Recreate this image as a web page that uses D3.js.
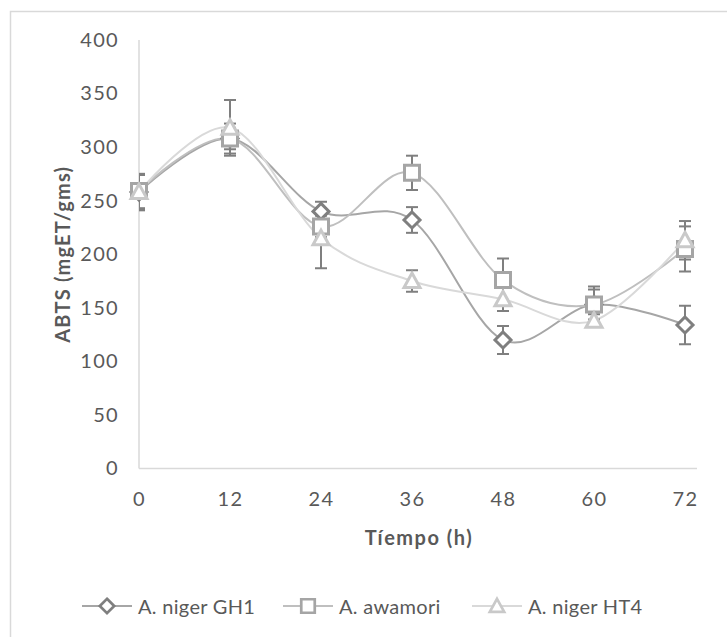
<!DOCTYPE html>
<html>
<head>
<meta charset="utf-8">
<script src="https://cdn.jsdelivr.net/npm/d3@7"></script>
<style>
  body { margin: 0; background: #fff; }
  text { font-family: Lato, "Open Sans", sans-serif; fill: #595959; }
</style>
</head>
<body>
<div id="chart"></div>
<script>
// Data
const hours = [0, 12, 24, 36, 48, 60, 72]
const gh1 = [258, 308, 240, 232, 120, 153, 134]
const gh1Err = [17, 10, 9, 12, 13, 14, 18]
const awamori = [259, 308, 226, 276, 176, 153, 205]
const awamoriErr = [16, 14, 10, 16, 20, 17, 21]
const ht4 = [258, 318, 215, 175, 158, 138, 213]
const ht4Err = [16, 26, 28, 10, 11, 6, 18]
const yTicks = [0, 50, 100, 150, 200, 250, 300, 350, 400]
const seriesNames = ['A. niger GH1', 'A. awamori', 'A. niger HT4']

function draw() {
  const dimensions = {
    width: 727,
    height: 637,
    left: 139,
    right: 697,
    top: 40,
    bottom: 468.5,
    lastCat: 685,
  }

  const series = [
    { name: seriesNames[0], values: gh1, err: gh1Err, shape: 'diamond', marker: '#7f7f7f', line: '#a6a6a6' },
    { name: seriesNames[1], values: awamori, err: awamoriErr, shape: 'square', marker: '#a5a5a5', line: '#bfbfbf' },
    { name: seriesNames[2], values: ht4, err: ht4Err, shape: 'triangle', marker: '#c9c9c9', line: '#d9d9d9' },
  ]

  const svg = d3.select('#chart')
    .append('svg')
    .attr('width', dimensions.width)
    .attr('height', dimensions.height)

  // chart border
  svg.append('rect')
    .attr('x', 10.5).attr('y', 11.5)
    .attr('width', 740).attr('height', 660)
    .attr('fill', 'none')
    .attr('stroke', '#d9d9d9')
    .attr('stroke-width', 1.5)

  // Scales
  const xScale = d3.scaleLinear()
    .domain([0, 72])
    .range([dimensions.left, dimensions.lastCat])

  const yScale = d3.scaleLinear()
    .domain([0, 400])
    .range([dimensions.bottom, dimensions.top])

  // Axes
  const yAxis = d3.axisLeft(yScale).tickValues(yTicks).tickSize(0).tickPadding(20)
  const yG = svg.append('g')
    .attr('transform', `translate(${dimensions.left},0)`)
    .call(yAxis)
  yG.select('.domain').remove()
  yG.selectAll('text')
    .style('font-size', '20px').style('font-family', 'Lato').style('letter-spacing', '1.3px')
    .attr('fill', '#595959')

  const xAxis = d3.axisBottom(xScale).tickValues(hours).tickSize(0).tickPadding(23)
  const xG = svg.append('g')
    .attr('transform', `translate(0,${dimensions.bottom})`)
    .call(xAxis)
  xG.select('.domain').remove()
  xG.selectAll('text')
    .style('font-size', '20px').style('font-family', 'Lato').style('letter-spacing', '1.3px')
    .attr('fill', '#595959')

  svg.append('line')
    .attr('x1', dimensions.left).attr('x2', dimensions.left)
    .attr('y1', dimensions.top).attr('y2', dimensions.bottom)
    .attr('stroke', '#d9d9d9').attr('stroke-width', 1.5)
  svg.append('line')
    .attr('x1', dimensions.left).attr('x2', dimensions.right)
    .attr('y1', dimensions.bottom).attr('y2', dimensions.bottom)
    .attr('stroke', '#d9d9d9').attr('stroke-width', 1.5)

  // Axis titles
  svg.append('text')
    .attr('transform', `translate(62,${(dimensions.top + dimensions.bottom) / 2}) rotate(-90)`)
    .attr('text-anchor', 'middle')
    .attr('dominant-baseline', 'central')
    .style('font-size', '20px').style('font-weight', 'bold').style('letter-spacing', '1.2px')
    .text('ABTS (mgET/gms)')

  svg.append('text')
    .attr('x', 419)
    .attr('y', 537)
    .attr('text-anchor', 'middle')
    .attr('dominant-baseline', 'central')
    .style('font-size', '20px').style('font-weight', 'bold').style('letter-spacing', '1.5px')
    .text('Tíempo (h)')

  // Markers
  const markerPath = shape => {
    if (shape === 'diamond') return 'M0,-8L8,0L0,8L-8,0Z'
    if (shape === 'square') return 'M-7.5,-7.5H7.5V7.5H-7.5Z'
    return 'M0,-8L8,6.5H-8Z'
  }

  svg.append('clipPath').attr('id', 'plot-clip')
    .append('rect')
    .attr('x', dimensions.left).attr('y', 0)
    .attr('width', dimensions.right - dimensions.left)
    .attr('height', dimensions.bottom)

  const line = d3.line()
    .x((d, i) => xScale(hours[i]))
    .y(d => yScale(d))
    .curve(d3.curveCardinal.tension(0))

  // lines
  const lineLayer = svg.append('g')
  series.forEach(s => {
    lineLayer.append('path')
      .attr('d', line(s.values))
      .attr('fill', 'none')
      .attr('stroke', s.line)
      .attr('stroke-width', 2)
  })

  // error bars
  const errLayer = svg.append('g').attr('clip-path', 'url(#plot-clip)')
  series.forEach(s => {
    const g = errLayer.append('g')
      .attr('stroke', '#7f7f7f')
      .attr('stroke-width', 2)
    s.values.forEach((v, i) => {
      const x = xScale(hours[i])
      const y1 = yScale(v + s.err[i])
      const y2 = yScale(v - s.err[i])
      g.append('line').attr('x1', x).attr('x2', x).attr('y1', y1).attr('y2', y2)
      g.append('line').attr('x1', x - 6).attr('x2', x + 6).attr('y1', y1).attr('y2', y1)
      g.append('line').attr('x1', x - 6).attr('x2', x + 6).attr('y1', y2).attr('y2', y2)
    })
  })

  // markers (series order, HT4 ends on top)
  series.forEach(s => {
    svg.append('g')
      .selectAll('path')
      .data(s.values)
      .join('path')
      .attr('transform', (d, i) => `translate(${xScale(hours[i])},${yScale(d)})`)
      .attr('d', markerPath(s.shape))
      .attr('fill', '#fff')
      .attr('stroke', s.marker)
      .attr('stroke-width', 3)
  })

  // Legend
  const legendX = [82, 283, 472]
  const legend = svg.append('g')
    .selectAll('g')
    .data(series)
    .join('g')
    .attr('transform', (d, i) => `translate(${legendX[i]},606)`)

  legend.append('line')
    .attr('x1', 0).attr('x2', 50)
    .attr('stroke', d => d.line).attr('stroke-width', 2)
  legend.append('path')
    .attr('transform', 'translate(25,0) scale(0.9)')
    .attr('d', d => markerPath(d.shape))
    .attr('fill', '#fff')
    .attr('stroke', d => d.marker)
    .attr('stroke-width', 3)
  legend.append('text')
    .attr('x', 56)
    .attr('dominant-baseline', 'central')
    .style('font-size', '20px').style('letter-spacing', '0.3px')
    .text(d => d.name)
}

draw()
</script>
</body>
</html>
